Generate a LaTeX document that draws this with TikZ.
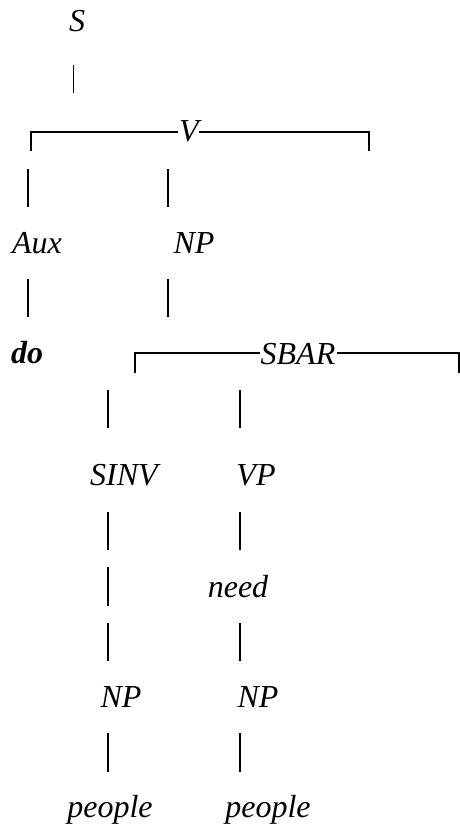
\documentclass[tikz,border=0pt]{standalone}
\usepackage{fontspec}
\setmainfont{Liberation Serif}
\begin{document}
\begin{tikzpicture}[x=1pt,y=-1pt,
  lbl/.style={anchor=base,inner sep=0pt,font=\fontsize{32}{36}\selectfont\itshape},
  thick stub/.style={line width=2pt},
  thin stub/.style={line width=1pt}]
\useasboundingbox[fill=white] (0,0) rectangle (460,824);
% labels
\node[lbl] (S) at (77,32) {S};
\node[lbl] (V) at (189,142) {V};
\node[lbl] (Aux) at (37,253) {Aux};
\node[lbl] (NP1) at (194,253) {NP};
\node[lbl,font=\fontsize{32}{36}\selectfont\bfseries\itshape] (do) at (27,363) {do};
\node[lbl] (SBAR) at (298,364) {SBAR};
\node[lbl] (SINV) at (124,485) {SINV};
\node[lbl] (VP) at (256,485) {VP};
\node[lbl] (need) at (238,597) {need};
\node[lbl] (NP2) at (121,707) {NP};
\node[lbl] (NP3) at (258,707) {NP};
\node[lbl] (people1) at (110,817) {people};
\node[lbl] (people2) at (268,817) {people};
% stub under S
\draw[thin stub] (73,65) -- (73,93);
% V bracket
\draw[thick stub] (31,151) -- (31,132) -- (178,132);
\draw[thick stub] (199,132) -- (369,132) -- (369,151);
% stubs under V
\draw[thick stub] (28,169) -- (28,207);
\draw[thick stub] (168,169) -- (168,207);
% stubs under Aux / NP
\draw[thick stub] (28,279) -- (28,317);
\draw[thick stub] (168,279) -- (168,317);
% SBAR bracket
\draw[thick stub] (135,373) -- (135,353) -- (260,353);
\draw[thick stub] (337,353) -- (459,353) -- (459,373);
% stubs under SBAR
\draw[thick stub] (108,390) -- (108,428);
\draw[thick stub] (240,390) -- (240,428);
% stubs under SINV / VP
\draw[thick stub] (108,512) -- (108,550);
\draw[thick stub] (240,512) -- (240,550);
\draw[thick stub] (108,567) -- (108,606);
\draw[thick stub] (108,623) -- (108,661);
\draw[thick stub] (240,623) -- (240,661);
% stubs under NP
\draw[thick stub] (108,733) -- (108,772);
\draw[thick stub] (240,733) -- (240,772);
\end{tikzpicture}
\end{document}
